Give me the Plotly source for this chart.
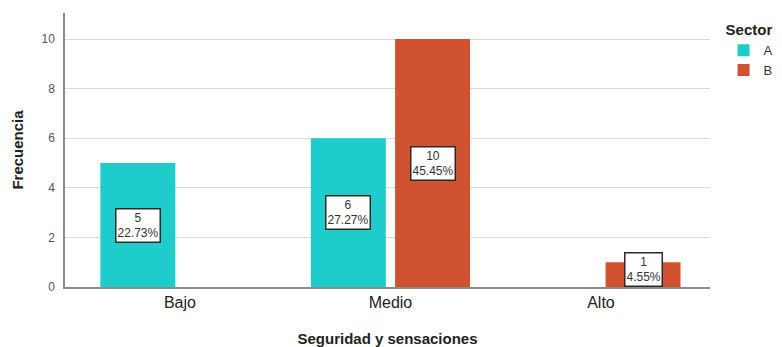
import plotly.graph_objects as go

# Frequencies by level of "Seguridad y sensaciones", split by sector
categories = ["Bajo", "Medio", "Alto"]
sector_a = [5, 6, None]
sector_b = [None, 10, 1]
pct_a = ["22.73%", "27.27%", None]
pct_b = [None, "45.45%", "4.55%"]
y_ticks = [0, 2, 4, 6, 8, 10]

COLOR_A = "#1ECDCB"
COLOR_B = "#D05230"
FONT = "Liberation Sans, Arial, sans-serif"

BARGAP = 0.20
BARGROUPGAP = 0.11

fig = go.Figure()
fig.add_trace(go.Bar(name="A", x=categories, y=sector_a, marker=dict(color=COLOR_A, line=dict(width=0))))
fig.add_trace(go.Bar(name="B", x=categories, y=sector_b, marker=dict(color=COLOR_B, line=dict(width=0))))

# Value / percent boxes centred on each bar
slot = (1 - BARGAP) / 2
annotations = []
for vals, pcts, off in ((sector_a, pct_a, -slot / 2), (sector_b, pct_b, slot / 2)):
    for i, (v, p) in enumerate(zip(vals, pcts)):
        if v is None:
            continue
        annotations.append(dict(
            x=i + off, y=max(v / 2, 0.72), xref="x", yref="y",
            text=f"{v}<br>{p}", showarrow=False,
            font=dict(family=FONT, size=12, color="#333333"),
            bgcolor="white", bordercolor="#2a2a2a", borderwidth=1.5, borderpad=1,
            align="center",
        ))

fig.update_layout(
    width=782, height=347,
    margin=dict(l=65, r=72, t=13, b=60, autoexpand=False),
    paper_bgcolor="white", plot_bgcolor="white",
    barmode="group", bargap=BARGAP, bargroupgap=BARGROUPGAP,
    font=dict(family=FONT, color="#222222"),
    annotations=annotations,
    legend=dict(
        title=dict(text="<b>Sector</b>", font=dict(family=FONT, size=15, color="#222222")),
        x=1.021, xanchor="left", y=0.99, yanchor="top",
        font=dict(family=FONT, size=13, color="#333333"),
        tracegroupgap=0, itemwidth=30,
    ),
    xaxis=dict(
        type="category", range=[-0.546, 2.518],
        showline=True, linecolor="#8a8a8a", linewidth=1.5,
        ticks="", tickfont=dict(family=FONT, size=16, color="#222222"),
        title=dict(text="<b>Seguridad y sensaciones</b>", font=dict(family=FONT, size=15, color="#222222"), standoff=24),
    ),
    yaxis=dict(
        range=[0, 11.05], tickvals=y_ticks,
        showgrid=True, gridcolor="#d9d9d9", gridwidth=1,
        showline=True, linecolor="#8a8a8a", linewidth=1.5,
        zeroline=False, ticks="outside", ticklen=6, tickcolor="rgba(0,0,0,0)",
        tickfont=dict(family=FONT, size=12, color="#555555"),
        title=dict(text="<b>Frecuencia</b>", font=dict(family=FONT, size=15, color="#222222"), standoff=14),
    ),
)

fig.write_html("out.html")
